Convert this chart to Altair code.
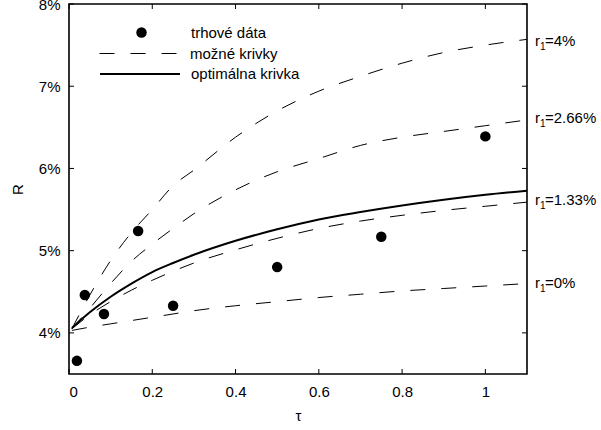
import altair as alt
import pandas as pd

# ---- data ----
tau = [0.007, 0.05, 0.1, 0.15, 0.2, 0.25, 0.3, 0.4, 0.5, 0.6, 0.7, 0.8, 0.9, 1.0, 1.1]
curve_r4 = [4.05, 4.46, 4.88, 5.22, 5.50, 5.79, 5.98, 6.38, 6.70, 6.94, 7.12, 7.28, 7.41, 7.50, 7.57]
curve_r266 = [4.05, 4.30, 4.60, 4.87, 5.08, 5.27, 5.45, 5.74, 5.96, 6.12, 6.28, 6.38, 6.45, 6.52, 6.59]
curve_r133 = [4.05, 4.22, 4.38, 4.52, 4.64, 4.75, 4.85, 5.01, 5.15, 5.27, 5.36, 5.43, 5.49, 5.54, 5.59]
curve_r0 = [4.03, 4.07, 4.11, 4.15, 4.19, 4.23, 4.27, 4.33, 4.38, 4.43, 4.47, 4.51, 4.54, 4.57, 4.60]
curve_opt = [4.06, 4.25, 4.44, 4.60, 4.74, 4.85, 4.95, 5.12, 5.26, 5.38, 5.47, 5.55, 5.62, 5.68, 5.73]

market_tau = [0.019, 0.038, 0.084, 0.166, 0.25, 0.5, 0.75, 1.0]
market_R = [3.66, 4.46, 4.23, 5.24, 4.33, 4.80, 5.17, 6.39]

r1_labels = ["4%", "2.66%", "1.33%", "0%"]
r1_label_y = [7.55, 6.61, 5.62, 4.61]

x_ticks = [0, 0.2, 0.4, 0.6, 0.8, 1]
y_ticks = [4, 5, 6, 7, 8]

W, H = 458, 370
FONT = "Liberation Sans"
FS = 15

# ---- tables ----
dashed_rows = []
for name, vals in [("4%", curve_r4), ("2.66%", curve_r266), ("1.33%", curve_r133), ("0%", curve_r0)]:
    for t, v in zip(tau, vals):
        dashed_rows.append({"tau": t, "R": v, "r1": name, "kind": "možné krivky"})
dashed_df = pd.DataFrame(dashed_rows)
opt_df = pd.DataFrame({"tau": tau, "R": curve_opt, "kind": "optimálna krivka"})
market_df = pd.DataFrame({"tau": market_tau, "R": market_R, "kind": "trhové dáta"})
lab_df = pd.DataFrame({"tau": [1.1] * 4, "R": r1_label_y, "txt": ["=" + s for s in r1_labels]})
xt_df = pd.DataFrame({"tau": x_ticks})
yt_df = pd.DataFrame({"R": y_ticks})

xs = alt.Scale(domain=[0, 1.1], nice=False, zero=False)
ys = alt.Scale(domain=[3.5, 8], nice=False, zero=False)

X = alt.X("tau:Q", scale=xs, title="τ",
          axis=alt.Axis(values=x_ticks, format="~g", ticks=False, domain=False, grid=False,
                        labelPadding=10, titlePadding=9))
Y = alt.Y("R:Q", scale=ys, title="R",
          axis=alt.Axis(values=y_ticks, labelExpr="datum.value + '%'", ticks=False, domain=False,
                        grid=False, labelPadding=9, titleX=-52, titleY=H / 2,
                        titleBaseline="middle", titleAlign="center"))

base = alt.Chart(dashed_df)

dashed = base.mark_line(color="black", strokeWidth=1, interpolate="monotone").encode(
    x=X, y=Y, detail="r1:N",
    strokeDash=alt.StrokeDash("kind:N", scale=alt.Scale(domain=["možné krivky"], range=[[15, 16]]),
                              legend=alt.Legend(title=None, orient="none", legendX=30, legendY=9,
                                                symbolType="stroke", symbolSize=6400,
                                                symbolStrokeColor="black", symbolStrokeWidth=1,
                                                labelOffset=10, padding=0)),
)

solid = alt.Chart(opt_df).mark_line(strokeWidth=2, interpolate="monotone").encode(
    x="tau:Q", y="R:Q",
    color=alt.Color("kind:N", scale=alt.Scale(domain=["optimálna krivka"], range=["black"]),
                    legend=alt.Legend(title=None, orient="none", legendX=30, legendY=29,
                                      symbolType="stroke", symbolSize=6400,
                                      symbolStrokeColor="black", symbolStrokeWidth=2,
                                      labelOffset=10, padding=0)),
)

points = alt.Chart(market_df).mark_point(filled=True, size=110, color="black", opacity=1).encode(
    x="tau:Q", y="R:Q",
    shape=alt.Shape("kind:N", scale=alt.Scale(domain=["trhové dáta"], range=["circle"]),
                    legend=alt.Legend(title=None, orient="none", legendX=65, legendY=21,
                                      symbolSize=110, symbolFillColor="black",
                                      symbolStrokeColor="black", symbolOpacity=1,
                                      labelOffset=42, padding=0)),
)

lab_r = alt.Chart(lab_df).mark_text(align="left", baseline="middle", dx=8, fontSize=FS, font=FONT,
                                    color="black").encode(x="tau:Q", y="R:Q", text=alt.value("r"))
lab_1 = alt.Chart(lab_df).mark_text(align="left", baseline="middle", dx=13, dy=6, fontSize=10, font=FONT,
                                    color="black").encode(x="tau:Q", y="R:Q", text=alt.value("1"))
lab_t = alt.Chart(lab_df).mark_text(align="left", baseline="middle", dx=18, fontSize=FS, font=FONT,
                                    color="black").encode(x="tau:Q", y="R:Q", text="txt:N")

tk = 5
xt_bot = alt.Chart(xt_df).mark_rule(color="black", strokeWidth=1).encode(
    x="tau:Q", y=alt.value(H), y2=alt.value(H - tk))
xt_top = alt.Chart(xt_df).mark_rule(color="black", strokeWidth=1).encode(
    x="tau:Q", y=alt.value(0), y2=alt.value(tk))
yt_left = alt.Chart(yt_df).mark_rule(color="black", strokeWidth=1).encode(
    y="R:Q", x=alt.value(0), x2=alt.value(tk))
yt_right = alt.Chart(yt_df).mark_rule(color="black", strokeWidth=1).encode(
    y="R:Q", x=alt.value(W - tk), x2=alt.value(W))

chart = alt.layer(
    dashed, solid, points, lab_r, lab_1, lab_t, xt_bot, xt_top, yt_left, yt_right
).resolve_legend(
    shape="independent", strokeDash="independent", color="independent"
).properties(
    width=W, height=H,
    autosize=alt.AutoSizeParams(type="none"),
    padding={"left": 69, "top": 4, "right": 601 - 69 - W, "bottom": 430 - 4 - H},
    background="white",
).configure_view(
    stroke="black", strokeWidth=1.6
).configure_axis(
    labelFont=FONT, labelFontSize=FS, labelColor="black",
    titleFont=FONT, titleFontSize=FS, titleColor="black", titleFontWeight="normal",
).configure_legend(
    labelFont=FONT, labelFontSize=FS, labelColor="black",
)

chart.save("out.html", embed_options={"renderer": "svg", "actions": False})
